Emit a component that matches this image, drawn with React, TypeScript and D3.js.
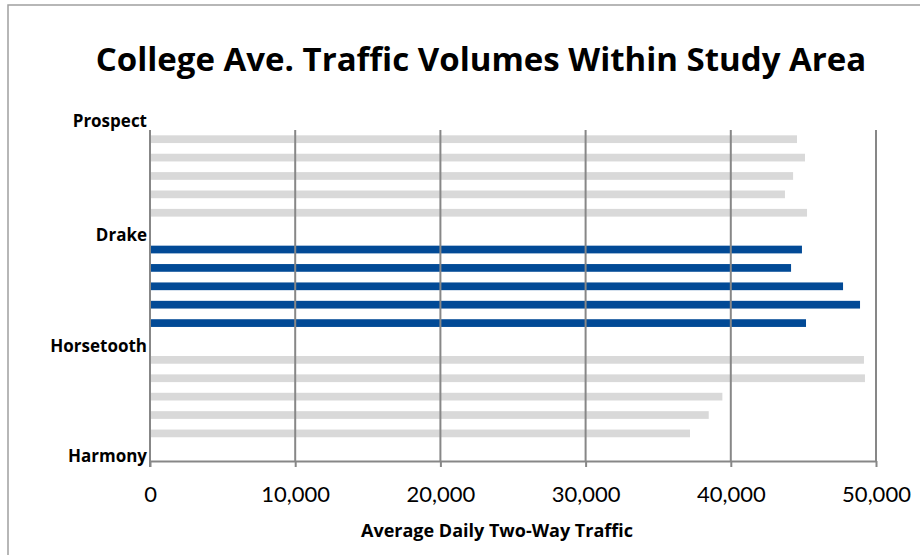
import React, { useEffect, useRef } from 'react';
import * as d3 from 'd3';

// Road segment groups, north to south (5 count stations each)
const roadLabels = ['Prospect', 'Drake', 'Horsetooth', 'Harmony'];
const prospectToDrake = [44560, 45110, 44290, 43730, 45250];
const drakeToHorsetooth = [44900, 44150, 47730, 48900, 45180];
const horsetoothToHarmony = [49170, 49240, 39420, 38480, 37190];
const xTicks = [0, 10000, 20000, 30000, 40000, 50000];

const groups = [
  { values: prospectToDrake, highlight: false },
  { values: drakeToHorsetooth, highlight: true },
  { values: horsetoothToHarmony, highlight: false },
];

const BOLD_FONT = '"Open Sans", sans-serif';
const FONT = 'Lato, "Open Sans", sans-serif';

export default function App() {
  const svgRef = useRef<SVGSVGElement>(null);

  useEffect(() => {
    if (!svgRef.current) return;
    const svg = d3.select(svgRef.current);
    svg.selectAll('*').remove();

    const left = 150, right = 876, top = 130, bottom = 461;
    const slotsPerGroup = 6;
    const nSlots = groups.length * slotsPerGroup;

    const x = d3.scaleLinear().domain([0, 50000]).range([left, right]);
    const y = d3.scaleBand<number>()
      .domain(d3.range(nSlots))
      .range([top, bottom])
      .paddingInner(0.58)
      .paddingOuter(0.29);

    // chart frame
    svg.append('rect')
      .attr('x', 8).attr('y', 5)
      .attr('width', 930).attr('height', 600)
      .attr('fill', 'white')
      .attr('stroke', '#a0a0a0')
      .attr('stroke-width', 1.5);

    // title
    svg.append('text')
      .attr('x', 481).attr('y', 71)
      .attr('text-anchor', 'middle')
      .style('font-family', BOLD_FONT)
      .style('font-size', '33px')
      .style('font-weight', 'bold')
      .text('College Ave. Traffic Volumes Within Study Area');

    // bars
    const bars = groups.flatMap((g, gi) =>
      g.values.map((v, i) => ({ slot: gi * slotsPerGroup + i, v, highlight: g.highlight }))
    );
    svg.append('g').selectAll('rect')
      .data(bars)
      .enter()
      .append('rect')
      .attr('x', x(0))
      .attr('y', d => y(d.slot) || 0)
      .attr('width', d => x(d.v) - x(0))
      .attr('height', y.bandwidth())
      .attr('fill', d => d.highlight ? '#024a96' : '#d9d9d9');

    // vertical gridlines
    svg.append('g').selectAll('line')
      .data(xTicks.slice(1))
      .enter()
      .append('line')
      .attr('x1', d => x(d)).attr('x2', d => x(d))
      .attr('y1', top).attr('y2', bottom)
      .attr('stroke', '#878787')
      .attr('stroke-width', 2);

    // x axis
    const xAxis = svg.append('g')
      .attr('transform', `translate(0,${bottom})`)
      .call(d3.axisBottom(x).tickValues(xTicks).tickSize(6).tickSizeOuter(0)
        .tickFormat(d => d3.format(',')(d as number)));
    xAxis.select('.domain').attr('stroke', '#878787').attr('stroke-width', 2);
    xAxis.selectAll('.tick line').attr('stroke', '#878787').attr('stroke-width', 2);
    xAxis.selectAll('.tick text')
      .attr('y', 0).attr('dy', 0)
      .attr('transform', 'translate(0,41)')
      .style('font-family', FONT)
      .style('font-size', '22px')
      .attr('fill', '#000');

    // y axis line
    svg.append('line')
      .attr('x1', left).attr('x2', left)
      .attr('y1', top).attr('y2', bottom + 6)
      .attr('stroke', '#878787')
      .attr('stroke-width', 2);

    // road labels at group boundaries
    const step = y.step();
    const start = (y(0) || 0) - step * y.paddingOuter();
    svg.append('g').selectAll('text')
      .data(roadLabels)
      .enter()
      .append('text')
      .attr('x', 147)
      .attr('y', (d, i) => start + i * slotsPerGroup * step - (i === 0 ? 3 : -1))
      .attr('text-anchor', 'end')
      .style('font-family', BOLD_FONT)
      .style('font-size', '17px')
      .style('font-weight', 'bold')
      .text(d => d);

    // x axis title
    svg.append('text')
      .attr('x', 497).attr('y', 537)
      .attr('text-anchor', 'middle')
      .style('font-family', BOLD_FONT)
      .style('font-size', '18px')
      .style('font-weight', 'bold')
      .text('Average Daily Two-Way Traffic');
  }, []);

  return (
    <svg
      ref={svgRef}
      width={920}
      height={555}
      style={{ position: 'absolute', left: 0, top: 0, display: 'block' }}
    />
  );
}
